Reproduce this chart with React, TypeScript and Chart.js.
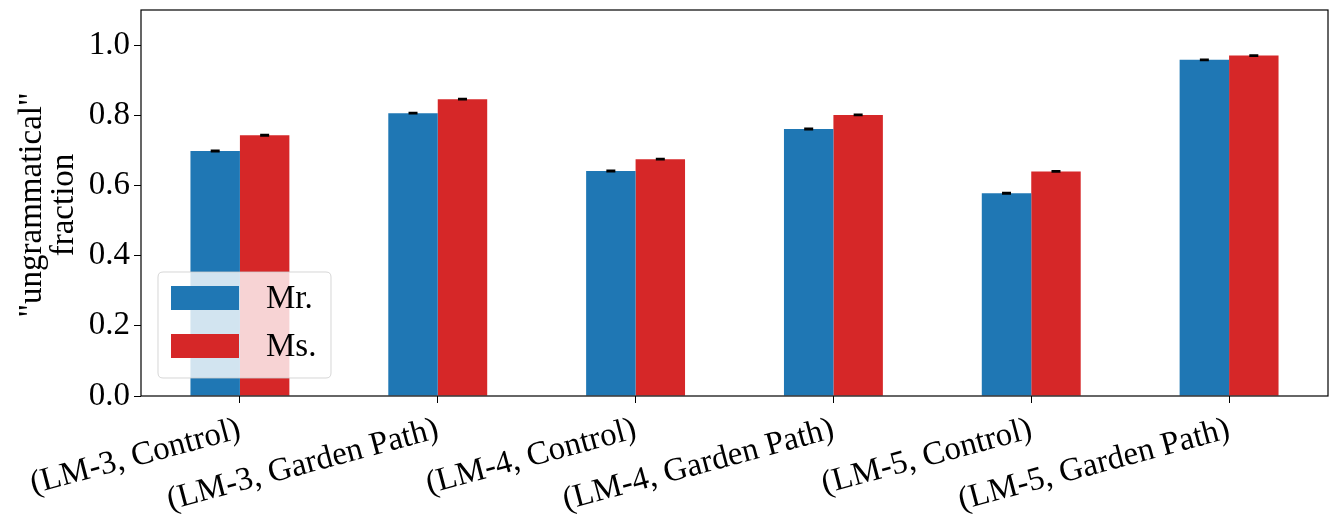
import React, { useEffect, useRef } from "react";
import { Chart, registerables } from "chart.js";

Chart.register(...registerables);

const categories = [
  "(LM-3, Control)",
  "(LM-3, Garden Path)",
  "(LM-4, Control)",
  "(LM-4, Garden Path)",
  "(LM-5, Control)",
  "(LM-5, Garden Path)",
];
const mrValues = [0.698, 0.806, 0.641, 0.761, 0.578, 0.958];
const msValues = [0.743, 0.846, 0.675, 0.801, 0.640, 0.970];
const mrErrors = [0.002, 0.002, 0.002, 0.002, 0.002, 0.002];
const msErrors = [0.002, 0.002, 0.002, 0.002, 0.002, 0.002];
const yTicks = [0, 0.2, 0.4, 0.6, 0.8, 1.0];
const yTitleLines = ['"ungrammatical"', "fraction"];

const FONT = "'Liberation Serif', 'Times New Roman', serif";
const FS = 33;
const BLUE = "#1f77b4";
const RED = "#d62728";

export default function App() {
  const ref = useRef<HTMLCanvasElement | null>(null);

  useEffect(() => {
    document.body.style.margin = "0";
    const canvas = ref.current!;
    const errs = [mrErrors, msErrors];

    const errorBars = {
      id: "errorBars",
      afterDatasetsDraw(chart: any) {
        const ctx = chart.ctx;
        const y = chart.scales.y;
        ctx.save();
        ctx.strokeStyle = "#000";
        ctx.lineWidth = 1.5;
        chart.data.datasets.forEach((ds: any, di: number) => {
          const meta = chart.getDatasetMeta(di);
          meta.data.forEach((bar: any, i: number) => {
            const v = ds.data[i];
            const e = errs[di][i];
            const y1 = y.getPixelForValue(v - e);
            const y2 = y.getPixelForValue(v + e);
            ctx.beginPath();
            ctx.moveTo(bar.x, y1);
            ctx.lineTo(bar.x, y2);
            ctx.moveTo(bar.x - 4.5, y1);
            ctx.lineTo(bar.x + 4.5, y1);
            ctx.moveTo(bar.x - 4.5, y2);
            ctx.lineTo(bar.x + 4.5, y2);
            ctx.stroke();
          });
        });
        ctx.restore();
      },
    };

    const frameAndLegend = {
      id: "frameAndLegend",
      afterDraw(chart: any) {
        const ctx = chart.ctx;
        const a = chart.chartArea;
        ctx.save();
        ctx.strokeStyle = "#000";
        ctx.lineWidth = 1.2;
        ctx.strokeRect(a.left, a.top, a.right - a.left, a.bottom - a.top);

        // y-axis title
        const cyMid = (a.top + a.bottom) / 2 + 2;
        ctx.save();
        ctx.font = `${FS}px ${FONT}`;
        ctx.fillStyle = "#000";
        ctx.textAlign = "center";
        ctx.textBaseline = "alphabetic";
        const baselines = [41, 73];
        yTitleLines.forEach((t, i) => {
          ctx.save();
          ctx.translate(baselines[i], cyMid);
          ctx.rotate(-Math.PI / 2);
          ctx.fillText(t, 0, 0);
          ctx.restore();
        });
        ctx.restore();

        // legend box
        const lx = a.left + 17;
        const ly = a.top + 262;
        const lw = 173;
        const lh = 106;
        const r = 5;
        ctx.beginPath();
        ctx.moveTo(lx + r, ly);
        ctx.lineTo(lx + lw - r, ly);
        ctx.quadraticCurveTo(lx + lw, ly, lx + lw, ly + r);
        ctx.lineTo(lx + lw, ly + lh - r);
        ctx.quadraticCurveTo(lx + lw, ly + lh, lx + lw - r, ly + lh);
        ctx.lineTo(lx + r, ly + lh);
        ctx.quadraticCurveTo(lx, ly + lh, lx, ly + lh - r);
        ctx.lineTo(lx, ly + r);
        ctx.quadraticCurveTo(lx, ly, lx + r, ly);
        ctx.closePath();
        ctx.fillStyle = "rgba(255,255,255,0.8)";
        ctx.fill();
        ctx.strokeStyle = "rgba(204,204,204,0.8)";
        ctx.lineWidth = 1;
        ctx.stroke();

        const items = [
          { label: "Mr.", color: BLUE },
          { label: "Ms.", color: RED },
        ];
        ctx.font = `${FS}px ${FONT}`;
        ctx.textBaseline = "middle";
        ctx.textAlign = "left";
        items.forEach((it, i) => {
          const cy = ly + 26 + i * 48;
          ctx.fillStyle = it.color;
          ctx.fillRect(lx + 13, cy - 12, 68, 24);
          ctx.fillStyle = "#000";
          ctx.fillText(it.label, lx + 108, cy + 1);
        });
        ctx.restore();
      },
    };

    const chart = new Chart(canvas, {
      type: "bar",
      data: {
        labels: categories,
        datasets: [
          { label: "Mr.", data: mrValues, backgroundColor: BLUE, borderWidth: 0 },
          { label: "Ms.", data: msValues, backgroundColor: RED, borderWidth: 0 },
        ],
      },
      options: {
        animation: false,
        responsive: false,
        maintainAspectRatio: false,
        layout: { padding: { top: 10, right: 6, left: 0, bottom: 0 } },
        datasets: { bar: { categoryPercentage: 0.5, barPercentage: 1.0 } },
        plugins: {
          legend: { display: false },
          tooltip: { enabled: false },
        },
        scales: {
          x: {
            offset: true,
            grid: {
              display: true,
              drawOnChartArea: false,
              drawTicks: true,
              tickLength: 7,
              color: "#000",
              offset: false,
            },
            border: { display: false },
            ticks: {
              color: "#000",
              font: { family: FONT, size: FS },
              minRotation: 15,
              maxRotation: 15,
              autoSkip: false,
              padding: 7,
            },
            afterFit(scale: any) {
              scale.height = 120;
              scale.paddingLeft = 0;
              scale.paddingRight = 0;
            },
          },
          y: {
            min: 0,
            max: 1.1,
            afterBuildTicks(scale: any) {
              scale.ticks = yTicks.map((v) => ({ value: v }));
            },
            grid: {
              display: true,
              drawOnChartArea: false,
              drawTicks: true,
              tickLength: 7,
              color: "#000",
            },
            border: { display: false },
            ticks: {
              color: "#000",
              font: { family: FONT, size: FS },
              padding: 4,
              callback: (v: any) => Number(v).toFixed(1),
            },
            title: { display: false },
            afterFit(scale: any) {
              scale.width = 141;
              scale.paddingTop = 0;
              scale.paddingBottom = 0;
            },
          },
        },
      },
      plugins: [errorBars, frameAndLegend],
    });
    return () => chart.destroy();
  }, []);

  return <canvas ref={ref} width={1334} height={516} style={{ display: "block" }} />;
}
